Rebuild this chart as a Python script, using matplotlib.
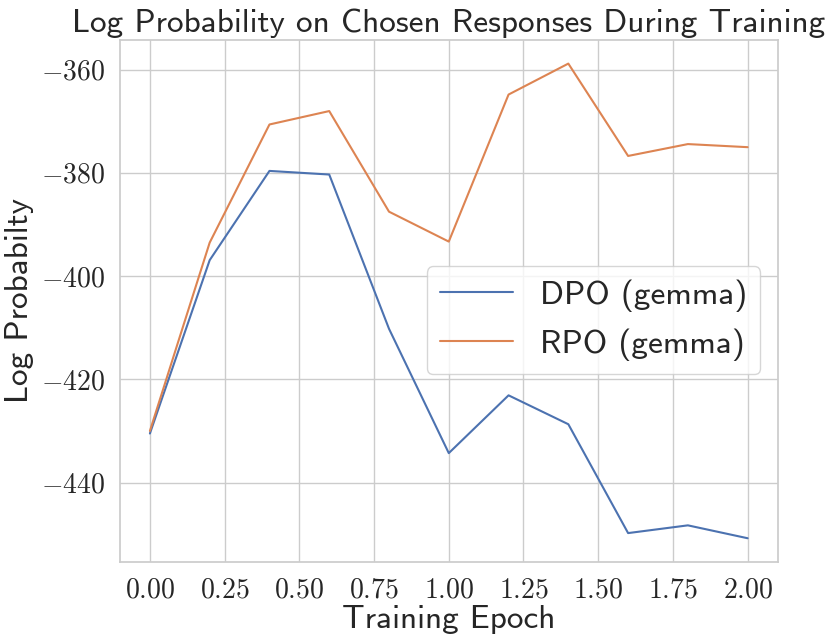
import matplotlib
matplotlib.use('agg')
import matplotlib.pyplot as plt
from matplotlib.ticker import FuncFormatter
import seaborn as sns

epochs = [0.0, 0.2, 0.4, 0.6, 0.8, 1.0, 1.2, 1.4, 1.6, 1.8, 2.0]
dpo_logp = [-430.5, -396.9, -379.6, -380.3, -410.2, -434.3, -423.1, -428.7, -449.8, -448.3, -450.8]
rpo_logp = [-430.0, -393.5, -370.6, -368.0, -387.5, -393.3, -364.8, -358.8, -376.7, -374.4, -375.0]
labels = ['DPO (gemma)', 'RPO (gemma)']

sns.set_theme(style='whitegrid')
plt.rcParams['font.family'] = ['cmss10', 'DejaVu Sans']
plt.rcParams['mathtext.fontset'] = 'cm'

fig = plt.figure(figsize=(8.3, 6.43), dpi=100)
ax = fig.add_axes([0.1446, 0.126, 0.7922, 0.812])

ax.plot(epochs, dpo_logp, color='#4C72B0', lw=1.5, label=labels[0])
ax.plot(epochs, rpo_logp, color='#DD8452', lw=1.5, label=labels[1])

ax.set_xticks([0.0, 0.25, 0.5, 0.75, 1.0, 1.25, 1.5, 1.75, 2.0])
ax.set_yticks([-440, -420, -400, -380, -360])
ax.xaxis.set_major_formatter(FuncFormatter(lambda v, p: '$%.2f$' % v))
ax.yaxis.set_major_formatter(FuncFormatter(lambda v, p: '$%d$' % v))
ax.tick_params(axis='both', labelsize=20, pad=5)

ax.set_title('Log Probability on Chosen Responses During Training', fontsize=24, pad=6)
ax.set_xlabel('Training Epoch', fontsize=24, labelpad=2)
ax.set_ylabel('Log Probabilty', fontsize=24, labelpad=5)

ax.legend(loc='upper right', bbox_to_anchor=(0.974, 0.567), borderaxespad=0,
          fontsize=24, handlelength=2.2)

plt.savefig('out.png', dpi=100)
plt.close()
